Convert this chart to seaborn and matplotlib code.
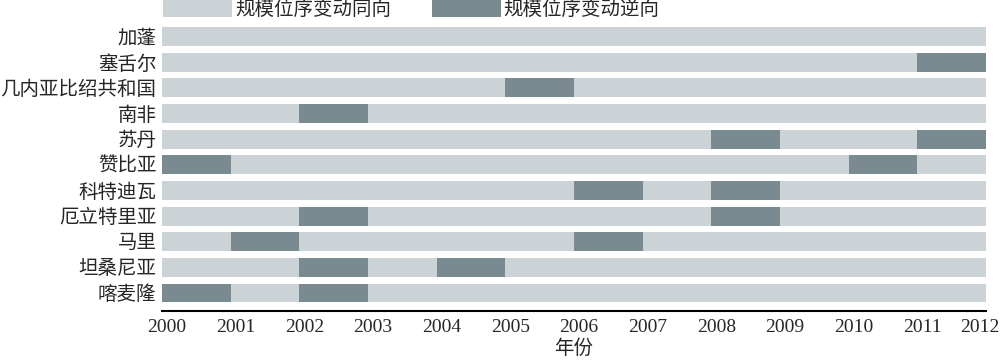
import matplotlib
matplotlib.use("Agg")
import matplotlib.pyplot as plt
import matplotlib.transforms as mtransforms
from matplotlib.patches import Patch
import seaborn as sns
import pandas as pd

# ---- data ----
countries = ["加蓬", "塞舌尔", "几内亚比绍共和国", "南非", "苏丹", "赞比亚",
             "科特迪瓦", "厄立特里亚", "马里", "坦桑尼亚", "喀麦隆"]
# start year of each one-year "逆向" (reverse) segment, per country
reverse_start_years = [[], [2011], [2005], [2002], [2008, 2011], [2000, 2010],
                       [2006, 2008], [2002, 2008], [2001, 2006], [2002, 2004], [2000, 2002]]
year_ticks = [2000, 2001, 2002, 2003, 2004, 2005, 2006, 2007, 2008, 2009, 2010, 2011, 2012]
legend_labels = ["规模位序变动同向", "规模位序变动逆向"]
x_label = "年份"

light = "#cbd3d6"
dark = "#798b90"

sns.set_theme(style="white")
plt.rcParams["font.family"] = ["Liberation Serif", "Noto Sans CJK SC", "DejaVu Sans"]

fig = plt.figure(figsize=(10, 3.62), dpi=100)
ax = fig.add_axes([0.162, 0.141, 0.824, 0.793])

base = year_ticks[0]
span = year_ticks[-1] - year_ticks[0]
df_base = pd.DataFrame({"country": countries, "span": [span] * len(countries)})
sns.barplot(data=df_base, x="span", y="country", orient="h", color=light,
            width=0.74, linewidth=0, saturation=1, ax=ax)

for i, starts in enumerate(reverse_start_years):
    for s in starts:
        ax.barh(i, 1, left=s - base, height=0.74, color=dark, linewidth=0)

ax.set_xlim(0, span)
ax.set_ylim(len(countries) - 1 + 0.7, -0.5)
ax.set_xticks([y - base for y in year_ticks])
ax.set_xticklabels([str(y) for y in year_ticks], fontsize=14)
ax.set_ylabel("")
ax.set_xlabel(x_label, fontsize=14, labelpad=2)
ax.tick_params(axis="y", labelsize=14, length=0, pad=4)
ax.tick_params(axis="x", length=0, pad=6)
for sp in ["left", "right", "top"]:
    ax.spines[sp].set_visible(False)
ax.spines["bottom"].set_color("black")
ax.spines["bottom"].set_linewidth(1.5)

# shift tick labels slightly right, last one right-aligned within the figure
labels = ax.get_xticklabels()
for lab in labels[:-1]:
    lab.set_transform(lab.get_transform() + mtransforms.ScaledTranslation(5 / 100, 0, fig.dpi_scale_trans))
labels[-1].set_horizontalalignment("right")
labels[-1].set_transform(labels[-1].get_transform() + mtransforms.ScaledTranslation(14 / 100, 0, fig.dpi_scale_trans))

handles = [Patch(facecolor=light, linewidth=0), Patch(facecolor=dark, linewidth=0)]
fig.legend(handles, legend_labels, loc="upper left", bbox_to_anchor=(0.163, 1.0),
           ncol=2, frameon=False, fontsize=14, handlelength=3.55, handleheight=1.0,
           handletextpad=0.15, columnspacing=2.1, borderpad=0.0, borderaxespad=0.0)

fig.savefig("out.png", dpi=100)
